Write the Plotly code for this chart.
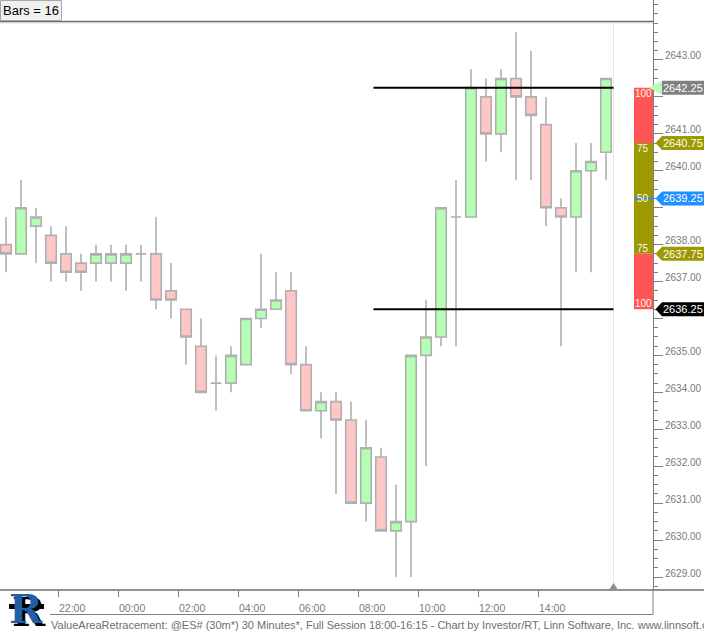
import plotly.graph_objects as go
import pandas as pd

# ---------------- data ----------------
bar_times = pd.date_range("2018-01-08 20:00", periods=41, freq="30min")

opens = [2638.00, 2637.75, 2638.50, 2638.25, 2637.75, 2637.50, 2637.50, 2637.50, 2637.50, 2637.75,
         2637.75, 2636.75, 2636.25, 2635.25, 2634.25, 2634.25, 2634.75, 2636.00, 2636.25, 2636.75,
         2634.75, 2633.50, 2633.75, 2633.25, 2631.00, 2632.25, 2630.25, 2630.50, 2635.00, 2635.50,
         2638.75, 2638.75, 2642.00, 2641.00, 2642.50, 2642.00, 2641.25, 2639.00, 2638.75, 2640.00,
         2640.50]
highs = [2638.75, 2639.75, 2639.00, 2638.50, 2638.50, 2637.75, 2638.00, 2638.00, 2638.00, 2638.00,
         2638.75, 2637.50, 2636.25, 2636.00, 2635.00, 2635.25, 2636.00, 2637.75, 2637.25, 2637.25,
         2635.25, 2634.00, 2634.00, 2633.75, 2633.25, 2632.50, 2631.50, 2635.00, 2636.50, 2639.00,
         2639.75, 2642.75, 2642.50, 2642.75, 2643.75, 2643.25, 2642.00, 2639.25, 2640.75, 2640.75,
         2642.50]
lows = [2637.25, 2637.75, 2637.50, 2637.00, 2637.00, 2636.75, 2637.00, 2637.00, 2636.75, 2637.00,
        2636.25, 2636.00, 2634.75, 2634.00, 2633.50, 2634.00, 2634.75, 2635.75, 2636.25, 2634.50,
        2633.50, 2632.75, 2631.25, 2631.00, 2630.50, 2630.25, 2629.00, 2629.00, 2632.00, 2635.25,
        2635.25, 2638.75, 2640.25, 2640.50, 2639.75, 2639.75, 2638.50, 2635.25, 2637.25, 2637.25,
        2639.75]
closes = [2637.75, 2639.00, 2638.75, 2637.50, 2637.25, 2637.25, 2637.75, 2637.75, 2637.75, 2637.75,
          2636.50, 2636.50, 2635.50, 2634.00, 2634.25, 2635.00, 2636.00, 2636.25, 2636.50, 2634.75,
          2633.50, 2633.75, 2633.25, 2631.00, 2632.50, 2630.25, 2630.50, 2635.00, 2635.50, 2639.00,
          2638.75, 2642.25, 2641.00, 2642.50, 2642.00, 2641.50, 2639.00, 2638.75, 2640.00, 2640.25,
          2642.50]

# value area levels (high, 75 upper, POC, 75 lower, low)
va_levels = [2642.25, 2640.75, 2639.25, 2637.75, 2636.25]
va_pct_labels = ["100", "75", "50", "75", "100"]
va_start = "2018-01-09 08:30"
va_end = "2018-01-09 16:30"
last_price = 2642.25

y_tick_vals = [2629, 2630, 2631, 2632, 2633, 2634, 2635, 2636, 2637, 2638, 2639, 2640, 2641, 2642, 2643]
# labels hidden behind the price flags are left blank
y_tick_text = ["2629.00", "2630.00", "2631.00", "2632.00", "2633.00", "2634.00", "2635.00", "",
               "2637.00", "2638.00", "", "2640.00", "2641.00", "", "2643.00"]
x_tick_vals = ["2018-01-08 22:00", "2018-01-09 00:00", "2018-01-09 02:00", "2018-01-09 04:00",
               "2018-01-09 06:00", "2018-01-09 08:00", "2018-01-09 10:00", "2018-01-09 12:00",
               "2018-01-09 14:00"]
x_tick_text = ["22:00", "00:00", "02:00", "04:00", "06:00", "08:00", "10:00", "12:00", "14:00"]

footer = ("ValueAreaRetracement: @ES# (30m*) 30 Minutes*, Full Session 18:00-16:15 - "
          "Chart by Investor/RT, Linn Software, Inc. www.linnsoft.com")

# ---------------- layout constants ----------------
W, H = 704, 632
PW, PH = 653, 590          # plot area size in px (left=0, top=0)
FONT = "Liberation Sans"
GRID_GREY = "#808080"


def px_x(px):
    return px / PW


def px_y(py):
    return (PH - py) / PH


bar_centers = bar_times + pd.Timedelta(minutes=15)

fig = go.Figure()
fig.add_trace(go.Candlestick(
    x=bar_centers, open=opens, high=highs, low=lows, close=closes,
    increasing=dict(fillcolor="#b5ffb5", line=dict(color="#b0b0b0", width=1.6)),
    decreasing=dict(fillcolor="#ffc6c6", line=dict(color="#b0b0b0", width=1.6)),
    whiskerwidth=0, showlegend=False, hoverinfo="skip",
))

shapes = []
annotations = []

# faint right boundary line + marker
shapes.append(dict(type="line", xref="x", yref="paper", x0=va_end, x1=va_end,
                   y0=0, y1=px_y(22), line=dict(color="#e8e8e8", width=1), layer="below"))
shapes.append(dict(type="path", xref="x", yref="paper", xsizemode="pixel", ysizemode="pixel",
                   xanchor=va_end, yanchor=0, path="M -4,1 L 4,1 L 0,7 Z",
                   fillcolor="#909090", line=dict(width=0)))

# value area high / low lines
for lvl in (va_levels[0], va_levels[-1]):
    shapes.append(dict(type="line", xref="x", yref="y", x0=va_start, x1=va_end, y0=lvl, y1=lvl,
                       line=dict(color="#000000", width=2)))

# value area column
col_colors = ["#ff5555", "#9c9a00", "#9c9a00", "#ff5555"]
for k in range(4):
    shapes.append(dict(type="rect", xref="paper", xsizemode="pixel", xanchor=1, x0=-19, x1=0,
                       yref="y", y0=va_levels[k], y1=va_levels[k + 1],
                       fillcolor=col_colors[k], line=dict(width=0)))
shapes.append(dict(type="line", xref="paper", xsizemode="pixel", xanchor=1, x0=-19, x1=0,
                   yref="y", y0=va_levels[2], y1=va_levels[2],
                   line=dict(color="#1e90ff", width=2)))
shifts = [-6, -5, 0, 5, 6]
for lvl, lab, sh in zip(va_levels, va_pct_labels, shifts):
    annotations.append(dict(xref="paper", x=1, xshift=-10, xanchor="center", yref="y", y=lvl,
                            yshift=sh, yanchor="middle", text=lab, showarrow=False,
                            font=dict(family=FONT, size=10, color="#fff6ee")))

# price flags on the axis
flag_colors = ["#808080", "#9c9a00", "#1e90ff", "#9c9a00", "#000000"]
for i, (lvl, col) in enumerate(zip(va_levels, flag_colors)):
    if i == 0:
        path = "M 9,7 L 60,7 L 60,-7 L 9,-7 Z"
    else:
        path = "M 2.5,0 L 9,7 L 60,7 L 60,-7 L 9,-7 Z"
    shapes.append(dict(type="path", xref="paper", xsizemode="pixel", xanchor=1,
                       yref="y", ysizemode="pixel", yanchor=lvl, path=path,
                       fillcolor=col, line=dict(width=0), layer="above"))
    annotations.append(dict(xref="paper", x=1, xshift=8, xanchor="left", yref="y", y=lvl,
                            yanchor="middle", text=f"{lvl:.2f}", showarrow=False,
                            font=dict(family=FONT, size=11, color="#ffffff")))
shapes.append(dict(type="path", xref="paper", xsizemode="pixel", xanchor=1,
                   yref="y", ysizemode="pixel", yanchor=last_price,
                   path="M -4,0 L 9,7 L 9,-7 Z", fillcolor="#b5ffb5", line=dict(width=0)))

# top strip with "Bars = 16"
shapes.append(dict(type="rect", xref="paper", yref="paper", x0=0, x1=1, y0=px_y(21), y1=1,
                   fillcolor="#ffffff", line=dict(width=0), layer="above"))
shapes.append(dict(type="rect", xref="paper", yref="paper", x0=0, x1=1, y0=px_y(24), y1=px_y(22),
                   fillcolor="#f2f2f2", line=dict(width=0), layer="above"))
shapes.append(dict(type="line", xref="paper", yref="paper", x0=0, x1=1, y0=px_y(21.5), y1=px_y(21.5),
                   line=dict(color="#6e6e6e", width=1.5), layer="above"))
shapes.append(dict(type="rect", xref="paper", yref="paper", x0=px_x(0.5), x1=px_x(61.5),
                   y0=px_y(20.5), y1=px_y(0.5), fillcolor="#f0f0f0",
                   line=dict(color="#a8a8a8", width=1), layer="above"))
annotations.append(dict(xref="paper", yref="paper", x=px_x(31), y=px_y(10.5), xanchor="center",
                        yanchor="middle", text="Bars = 16", showarrow=False,
                        font=dict(family=FONT, size=13, color="#000000")))

# bottom frame
shapes.append(dict(type="line", xref="paper", yref="paper", x0=0, x1=px_x(W), y0=0, y1=0,
                   line=dict(color="#6e6e6e", width=1.5)))
shapes.append(dict(type="line", xref="paper", yref="paper", x0=px_x(50), x1=1,
                   y0=px_y(614.5), y1=px_y(614.5), line=dict(color="#808080", width=1)))
shapes.append(dict(type="line", xref="paper", yref="paper", x0=1, x1=1,
                   y0=px_y(614.5), y1=0, line=dict(color="#808080", width=1)))

# footer text
annotations.append(dict(xref="paper", yref="paper", x=px_x(49), y=px_y(625), xanchor="left",
                        yanchor="middle", text=footer, showarrow=False,
                        font=dict(family=FONT, size=11, color="#6a6f78")))

# logo
shapes.append(dict(type="path", xref="paper", yref="paper", xsizemode="pixel", ysizemode="pixel",
                   xanchor=0, yanchor=0,
                   path="M 9,-14 L 44,-14 L 44,-19 L 9,-19 Z", fillcolor="#000000", line=dict(width=0)))
annotations.append(dict(xref="paper", yref="paper", x=px_x(26), y=px_y(608), xanchor="center",
                        yanchor="middle", text="<b>R</b>", showarrow=False,
                        font=dict(family="DejaVu Serif", size=40, color="#1f5fa6",
                                  shadow="3px 3px 0px #000000")))

fig.update_layout(
    width=W, height=H,
    margin=dict(l=0, r=W - PW, t=0, b=H - PH, pad=0),
    paper_bgcolor="#ffffff", plot_bgcolor="#ffffff",
    font=dict(family=FONT, color=GRID_GREY),
    boxgap=0.3, boxgroupgap=0,
    shapes=shapes, annotations=annotations,
    showlegend=False,
    xaxis=dict(
        type="date",
        range=["2018-01-08 20:03", "2018-01-09 17:49"],
        rangeslider=dict(visible=False),
        showgrid=False, zeroline=False, showline=False,
        tickmode="array", tickvals=x_tick_vals, ticktext=x_tick_text,
        ticks="outside", ticklen=6, tickcolor=GRID_GREY, tickwidth=1,
        ticklabelposition="outside right", ticklabelstandoff=8,
        tickfont=dict(family=FONT, size=10.5, color="#7a7a7a"),
        fixedrange=True,
    ),
    yaxis=dict(
        side="right",
        range=[2628.648, 2644.624],
        showgrid=False, zeroline=False,
        showline=True, linecolor=GRID_GREY, linewidth=1,
        tickmode="array", tickvals=y_tick_vals, ticktext=y_tick_text,
        ticks="outside", ticklen=9, tickcolor=GRID_GREY, tickwidth=1,
        ticklabelshift=-4,
        tickfont=dict(family=FONT, size=10, color="#7a7a7a"),
        minor=dict(tickmode="linear", tick0=2629, dtick=0.25, ticks="outside", ticklen=4,
                   tickcolor=GRID_GREY, tickwidth=1, showgrid=False),
        fixedrange=True,
    ),
)

fig.write_html("out.html", config={"displayModeBar": False},
               post_script="document.body.style.margin='0';document.body.style.overflow='hidden';")
